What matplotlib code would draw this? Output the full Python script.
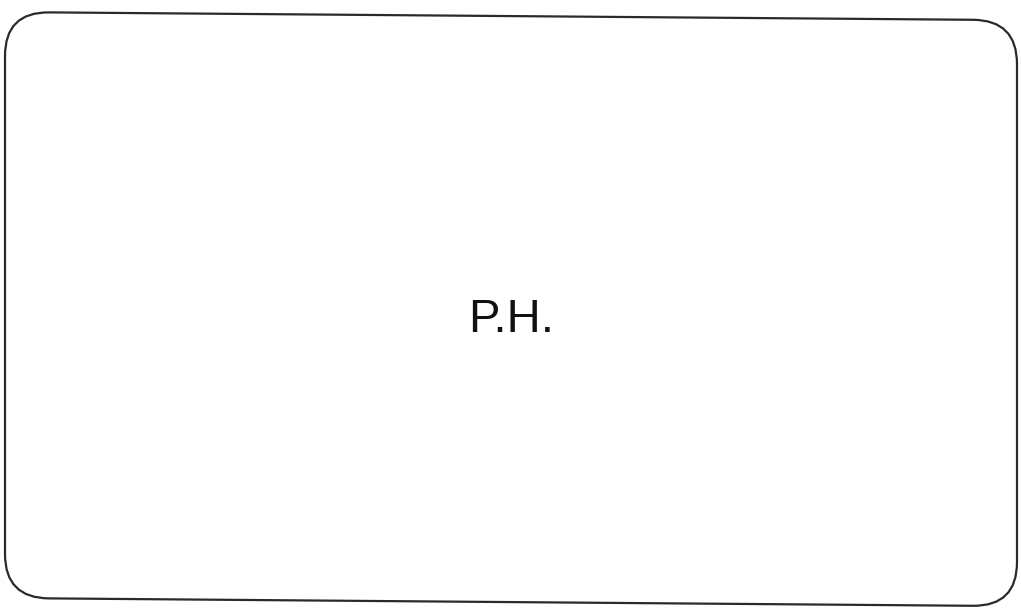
import math
import matplotlib
matplotlib.use("Agg")
import matplotlib.pyplot as plt
from matplotlib.patches import FancyBboxPatch
from matplotlib.transforms import Affine2D

# box edges in pixel space (left, top, right, bottom) measured at the left side
box = [5, 12, 1017, 598]
slope = 0.008          # the card is drawn slightly sheared, right side lower
radius = 44
label = "P.H."
label_pos = [511, 332]  # baseline of the label

fig = plt.figure(figsize=(10.21, 6.16), dpi=100)
ax = fig.add_axes([0, 0, 1, 1])
ax.set_xlim(0, 1021)
ax.set_ylim(616, 0)
ax.axis("off")

x0, y0, x1, y1 = box
card = FancyBboxPatch((x0 + radius, y0 + radius), (x1 - x0) - 2 * radius,
                      (y1 - y0) - 2 * radius,
                      boxstyle="round,pad=%d" % radius, facecolor="white",
                      edgecolor="#2a2a2a", linewidth=1.6)
card.set_transform(Affine2D().skew(0, math.atan(slope)) + ax.transData)
ax.add_patch(card)

ax.text(label_pos[0], label_pos[1], label, ha="center", va="baseline",
        fontsize=34, family="Liberation Sans", color="#111111")

fig.savefig("out.png", dpi=100)
